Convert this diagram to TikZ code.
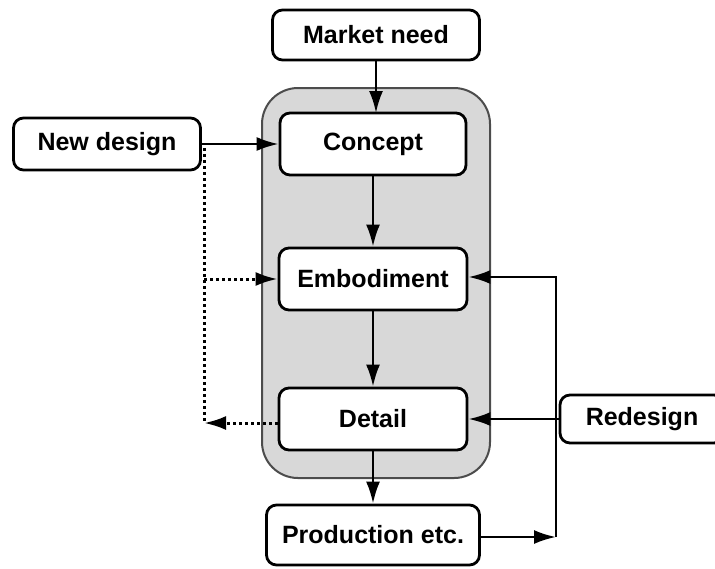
\documentclass[tikz,border=0pt]{standalone}
\usepackage{fontspec}
\setmainfont{Liberation Sans}
\usetikzlibrary{arrows.meta}
\definecolor{stagegray}{RGB}{216,216,216}
\begin{document}
\begin{tikzpicture}[x=0.5pt,y=-0.5pt,-{Latex[length=11pt,width=7pt]},line width=1.25pt]
    \tikzstyle{box}=[draw,rectangle,rounded corners=5pt,line width=1.4pt,fill=white,font=\fontsize{12.5}{14}\selectfont\bfseries,inner sep=0pt];
    \tikzstyle{dots}=[line width=1.5pt,dash pattern=on 1.5pt off 1.5pt];
    \useasboundingbox (0,0) rectangle (715,568);
    % grey stage frame
    \draw[-,fill=stagegray,draw=black!70,line width=1pt,rounded corners=18pt] (262,88) rectangle (490,478);

    \node at (376, 35)  (mkt)     [box,minimum width=103.5pt,minimum height=25pt] {Market need};
    \node at (373, 144) (concept) [box,minimum width=93pt,minimum height=31pt] {Concept};
    \node at (373, 279) (embod)   [box,minimum width=94pt,minimum height=31pt] {Embodiment};
    \node at (373, 419) (detail)  [box,minimum width=94pt,minimum height=31pt] {Detail};
    \node at (373, 535) (prod)    [box,minimum width=106.5pt,minimum height=30pt] {Production etc.};
    \node at (107, 144) (newd)    [box,minimum width=93.5pt,minimum height=26pt] {New design};
    \node at (642, 419) (redes)   [box,minimum width=82pt,minimum height=24pt] {Redesign};

    \coordinate (branch) at (204, 148);
    \coordinate (back)   at (204, 423);
    \coordinate (loop)   at (556, 537);
    \coordinate (top)    at (556, 277);

    \draw (mkt.south -| 376,0) to (376, 113);
    \draw (newd.east) to (concept.west);
    \draw (concept) to (embod);
    \draw (embod) to (detail);
    \draw (detail) to (prod);
    \draw[-,dots] (branch) to (back);
    \draw[dots] (branch |- embod.west) to (embod.west);
    \draw[dots] (detail.west |- back) to (back);
    \draw (prod.east |- loop) to (loop);
    \draw (loop) -- (top) to (embod.east |- top);
    \draw (redes.west) to (detail.east);
\end{tikzpicture}
\end{document}
